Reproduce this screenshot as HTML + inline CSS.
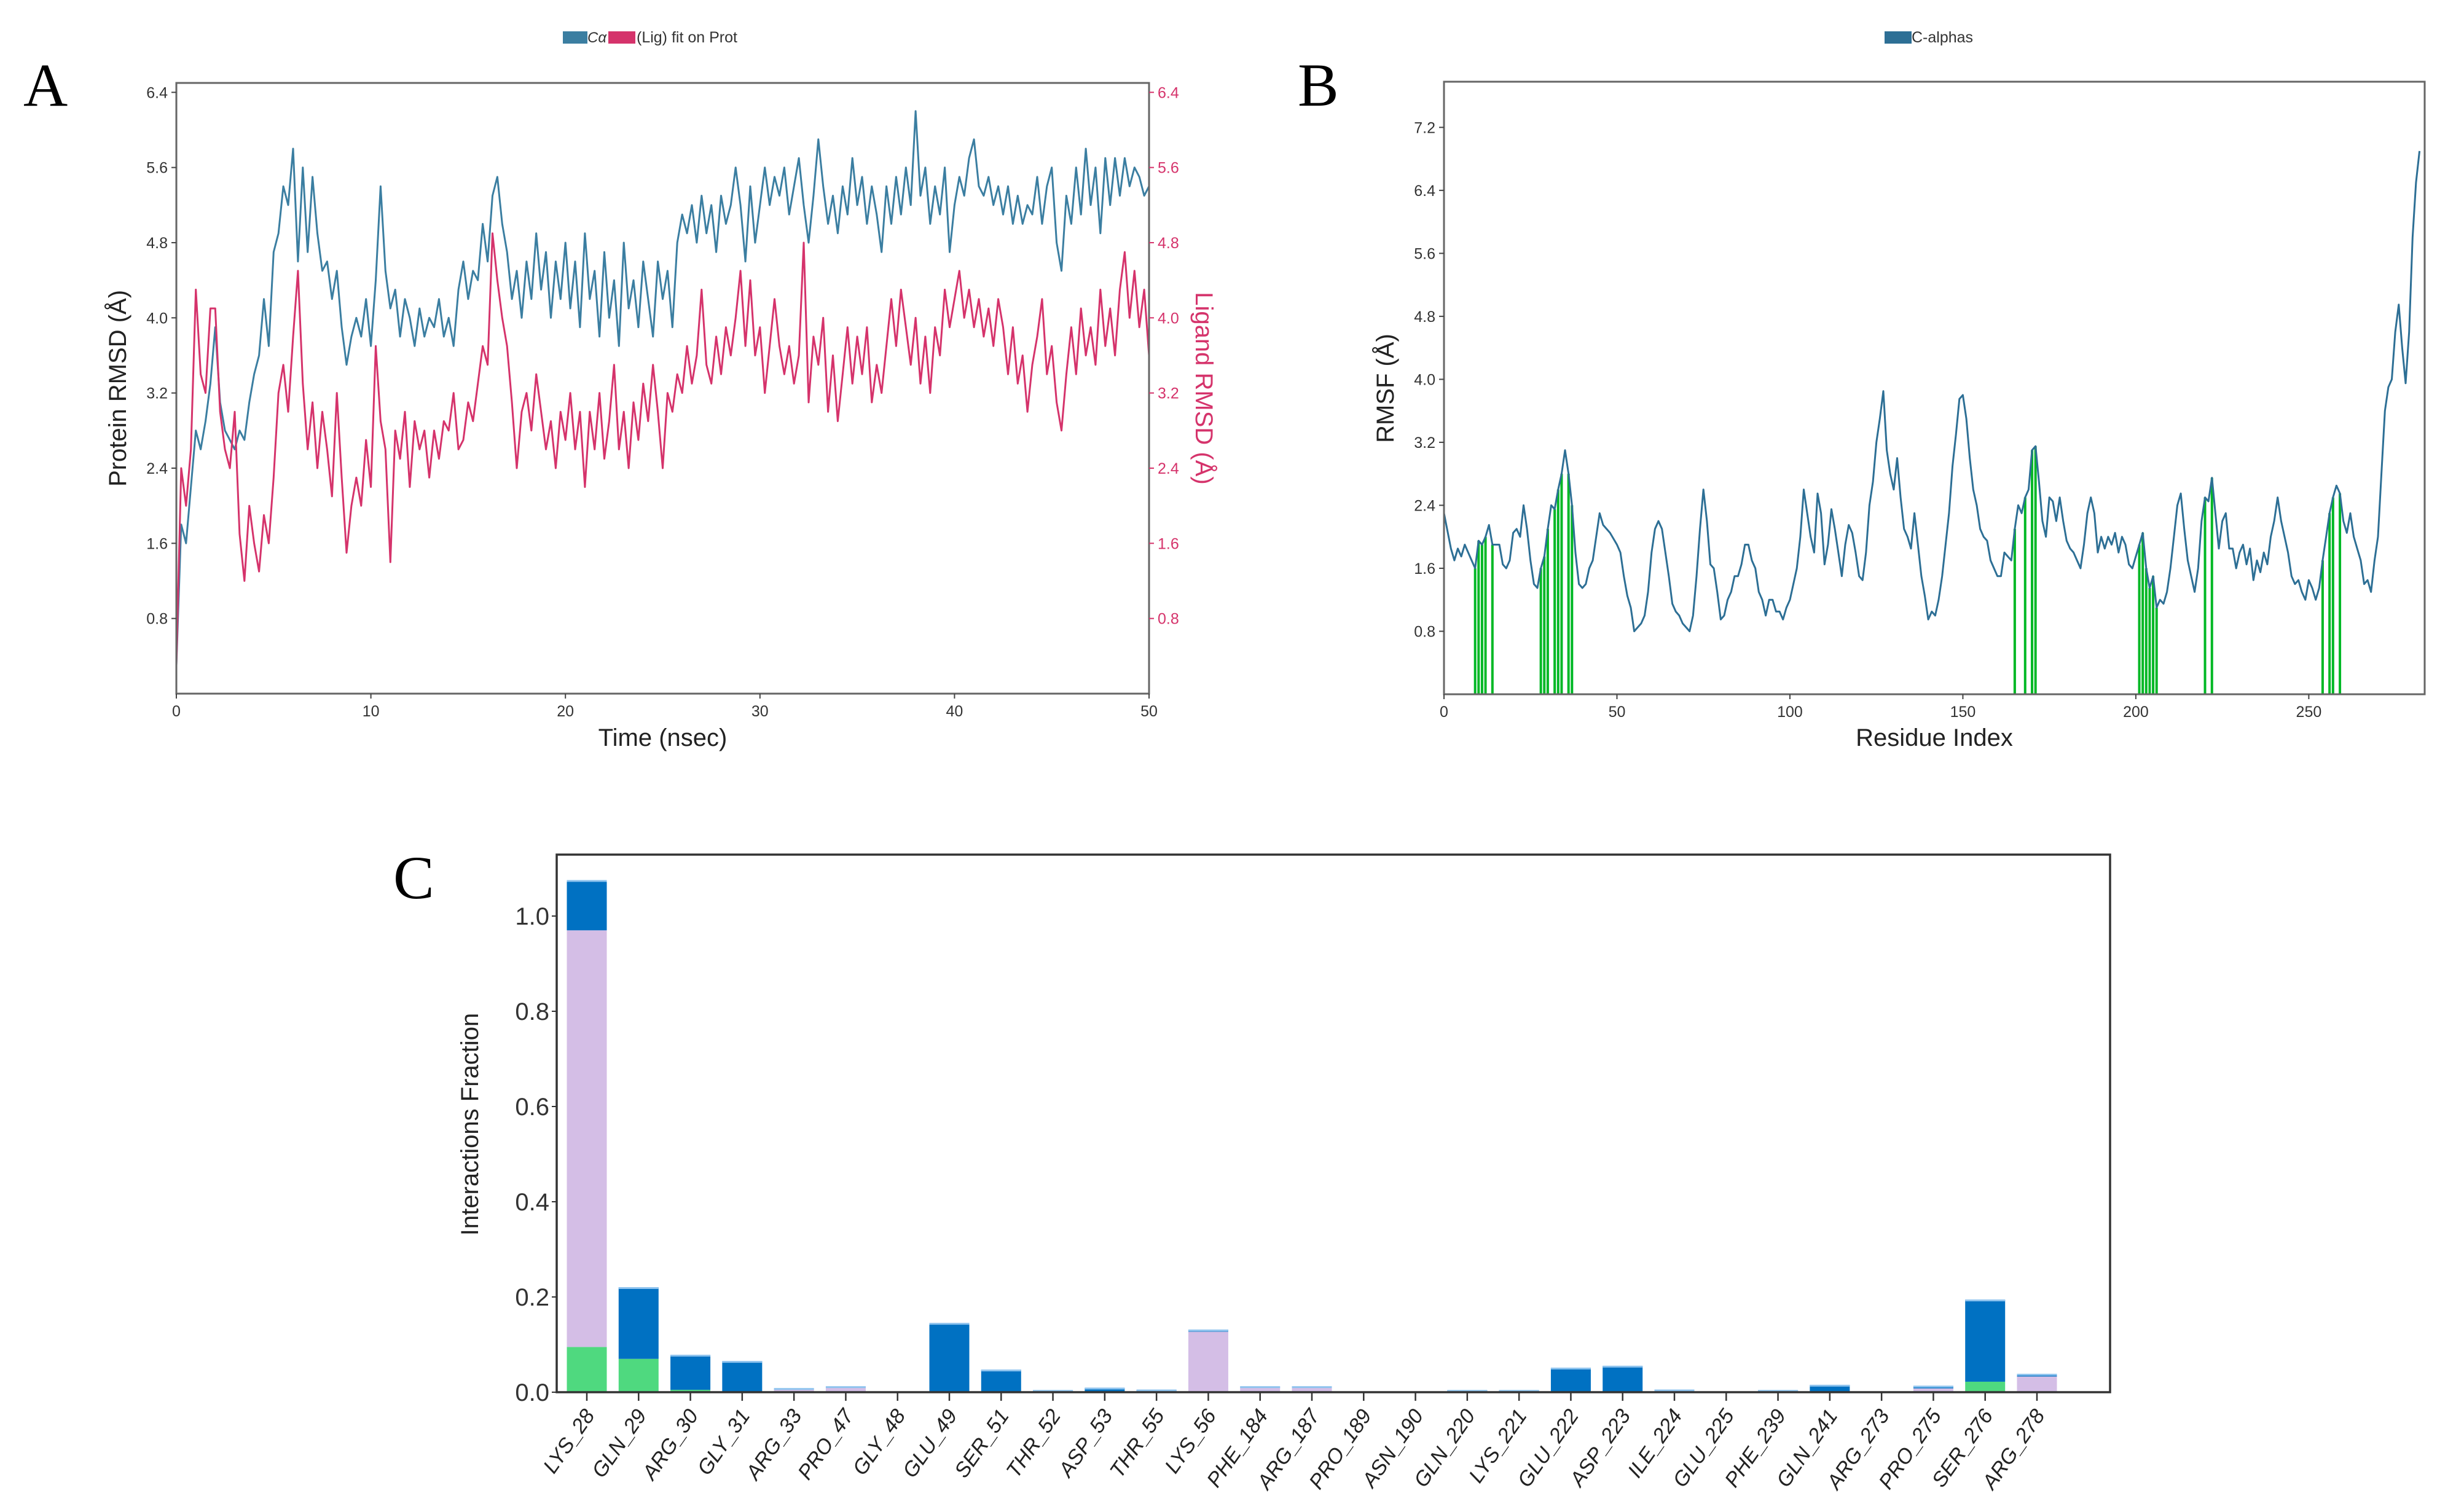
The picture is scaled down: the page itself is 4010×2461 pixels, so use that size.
<!DOCTYPE html>
<html><head><meta charset="utf-8">
<style>
html,body{margin:0;padding:0;background:#fff;}
svg{display:block;font-family:"Liberation Sans",sans-serif;}
</style></head>
<body>
<svg id="fig" width="4010" height="2461" viewBox="0 0 4010 2461" xmlns="http://www.w3.org/2000/svg">
<rect width="4010" height="2461" fill="#fff"/>
<g id="pA"></g>
<g id="pB"></g>
<g id="pC"></g>
</svg>
<script>
// ---------- Panel A data (0.25 ns step) ----------
const proteinRmsd = [0.3,1.8,1.6,2.2,2.8,2.6,2.9,3.3,3.9,3.1,2.8,2.7,2.6,2.8,2.7,3.1,3.4,3.6,4.2,3.7,4.7,4.9,5.4,5.2,5.8,4.6,5.6,4.7,5.5,4.9,4.5,4.6,4.2,4.5,3.9,3.5,3.8,4.0,3.8,4.2,3.7,4.4,5.4,4.5,4.1,4.3,3.8,4.2,4.0,3.7,4.1,3.8,4.0,3.9,4.2,3.8,4.0,3.7,4.3,4.6,4.2,4.5,4.4,5.0,4.6,5.3,5.5,5.0,4.7,4.2,4.5,4.0,4.6,4.2,4.9,4.3,4.7,4.0,4.6,4.2,4.8,4.1,4.6,3.9,4.9,4.2,4.5,3.8,4.7,4.0,4.4,3.7,4.8,4.1,4.4,3.9,4.6,4.2,3.8,4.6,4.2,4.5,3.9,4.8,5.1,4.9,5.2,4.8,5.3,4.9,5.2,4.7,5.3,5.0,5.2,5.6,5.2,4.6,5.4,4.8,5.2,5.6,5.2,5.5,5.3,5.6,5.1,5.4,5.7,5.2,4.8,5.3,5.9,5.4,5.0,5.3,4.9,5.4,5.1,5.7,5.2,5.5,5.0,5.4,5.1,4.7,5.4,5.0,5.5,5.1,5.6,5.2,6.2,5.3,5.6,5.0,5.4,5.1,5.6,4.7,5.2,5.5,5.3,5.7,5.9,5.4,5.3,5.5,5.2,5.4,5.1,5.4,5.0,5.3,5.0,5.2,5.1,5.5,5.0,5.4,5.6,4.8,4.5,5.3,5.0,5.6,5.1,5.8,5.2,5.6,4.9,5.7,5.2,5.7,5.3,5.7,5.4,5.6,5.5,5.3,5.4];
const ligandRmsd = [0.3,2.4,2.0,2.6,4.3,3.4,3.2,4.1,4.1,3.0,2.6,2.4,3.0,1.7,1.2,2.0,1.6,1.3,1.9,1.6,2.3,3.2,3.5,3.0,3.8,4.5,3.3,2.6,3.1,2.4,3.0,2.6,2.1,3.2,2.3,1.5,2.0,2.3,2.0,2.7,2.2,3.7,2.9,2.6,1.4,2.8,2.5,3.0,2.2,2.9,2.6,2.8,2.3,2.8,2.5,2.9,2.8,3.2,2.6,2.7,3.1,2.9,3.3,3.7,3.5,4.9,4.4,4.0,3.7,3.1,2.4,3.0,3.2,2.8,3.4,3.0,2.6,2.9,2.4,3.0,2.7,3.2,2.6,3.0,2.2,3.0,2.6,3.2,2.5,2.9,3.5,2.6,3.0,2.4,3.1,2.7,3.3,2.9,3.5,3.0,2.4,3.2,3.0,3.4,3.2,3.7,3.3,3.6,4.3,3.5,3.3,3.8,3.4,3.9,3.6,4.0,4.5,3.7,4.4,3.6,3.9,3.2,3.7,4.2,3.7,3.4,3.7,3.3,3.6,4.8,3.1,3.8,3.5,4.0,3.0,3.6,2.9,3.4,3.9,3.3,3.8,3.4,3.9,3.1,3.5,3.2,3.7,4.2,3.7,4.3,3.9,3.5,4.0,3.3,3.8,3.2,3.9,3.6,4.3,3.9,4.2,4.5,4.0,4.3,3.9,4.2,3.8,4.1,3.7,4.2,3.9,3.4,3.9,3.3,3.6,3.0,3.5,3.8,4.2,3.4,3.7,3.1,2.8,3.4,3.9,3.4,4.1,3.6,3.9,3.5,4.3,3.7,4.1,3.6,4.3,4.7,4.0,4.5,3.9,4.3,3.6];
const rmsdTicks = [0.8,1.6,2.4,3.2,4.0,4.8,5.6,6.4];
const timeTicks = [0,10,20,30,40,50];

// ---------- Panel B data ----------
const residues = [0,2,3,4,5,6,8,9,10,11,12,13,14,16,17,18,19,20,21,22,23,24,25,26,27,28,29,30,31,32,33,34,35,36,37,38,39,40,41,42,43,44,45,46,48,50,51,52,53,54,55,57,58,59,60,61,62,63,64,65,66,67,68,69,71,72,73,74,75,76,77,78,79,80,81,82,83,84,85,86,87,88,89,90,91,92,93,94,95,96,97,98,99,100,102,103,104,105,106,107,108,109,110,111,112,113,114,115,116,117,118,119,120,121,122,123,124,125,126,127,128,129,130,131,132,133,134,135,136,137,138,139,140,141,142,143,144,145,146,147,148,149,150,151,152,153,154,155,156,157,158,159,160,161,162,163,164,165,166,167,168,169,170,171,172,173,174,175,176,177,178,179,180,181,182,183,184,185,186,187,188,189,190,191,192,193,194,195,196,197,198,199,200,201,202,203,204,205,206,207,208,209,210,211,212,213,214,215,216,217,218,219,220,221,222,223,224,225,226,227,228,229,230,231,232,233,234,235,236,237,238,239,240,241,242,243,244,245,246,247,248,249,250,251,252,253,254,255,256,257,258,259,260,261,262,263,264,265,266,267,268,269,270,271,272,273,274,275,276,277,278,279,280,281,282];
const rmsf = [2.3,1.85,1.7,1.85,1.75,1.9,1.7,1.6,1.95,1.9,2.0,2.15,1.9,1.9,1.65,1.6,1.7,2.05,2.1,2.0,2.4,2.1,1.7,1.4,1.35,1.6,1.75,2.1,2.4,2.35,2.6,2.8,3.1,2.8,2.4,1.8,1.4,1.35,1.4,1.6,1.7,2.0,2.3,2.15,2.05,1.9,1.8,1.5,1.25,1.1,0.8,0.9,1.0,1.3,1.8,2.1,2.2,2.1,1.8,1.5,1.15,1.05,1.0,0.9,0.8,1.0,1.5,2.1,2.6,2.2,1.65,1.6,1.3,0.95,1.0,1.2,1.3,1.5,1.5,1.65,1.9,1.9,1.7,1.6,1.3,1.2,1.0,1.2,1.2,1.05,1.05,0.95,1.1,1.2,1.6,2.0,2.6,2.3,2.0,1.8,2.55,2.3,1.65,1.9,2.35,2.1,1.8,1.5,1.9,2.15,2.05,1.8,1.5,1.45,1.8,2.4,2.7,3.2,3.5,3.85,3.1,2.8,2.6,3.0,2.5,2.1,2.0,1.85,2.3,1.9,1.5,1.25,0.95,1.05,1.0,1.2,1.5,1.9,2.3,2.9,3.3,3.75,3.8,3.5,3.0,2.6,2.4,2.1,2.0,1.95,1.7,1.6,1.5,1.5,1.8,1.75,1.7,2.1,2.4,2.3,2.5,2.6,3.1,3.15,2.7,2.2,2.0,2.5,2.45,2.2,2.5,2.2,1.95,1.85,1.8,1.7,1.6,1.9,2.3,2.5,2.3,1.8,2.0,1.85,2.0,1.9,2.05,1.8,2.0,1.9,1.65,1.6,1.75,1.9,2.05,1.6,1.35,1.5,1.1,1.2,1.15,1.3,1.6,2.0,2.4,2.55,2.1,1.7,1.5,1.3,1.6,2.2,2.5,2.45,2.75,2.3,1.85,2.2,2.3,1.85,1.85,1.6,1.8,1.9,1.65,1.85,1.45,1.7,1.55,1.8,1.65,2.0,2.2,2.5,2.2,2.0,1.8,1.5,1.4,1.45,1.3,1.2,1.45,1.35,1.2,1.35,1.7,2.0,2.3,2.5,2.65,2.55,2.2,2.05,2.3,2.0,1.85,1.7,1.4,1.45,1.3,1.7,2.0,2.8,3.6,3.9,4.0,4.6,4.95,4.4,3.95,4.6,5.8,6.5,6.9];
const contactResidues = [9,10,11,12,14,28,29,30,32,33,34,36,37,165,168,170,171,201,202,203,204,205,206,220,222,254,256,257,259];
const rmsfTicks = [0.8,1.6,2.4,3.2,4.0,4.8,5.6,6.4,7.2];
const residueTicks = [0,50,100,150,200,250];

// ---------- Panel C data ----------
const resNames = ["LYS_28","GLN_29","ARG_30","GLY_31","ARG_33","PRO_47","GLY_48","GLU_49","SER_51","THR_52","ASP_53","THR_55","LYS_56","PHE_184","ARG_187","PRO_189","ASN_190","GLN_220","LYS_221","GLU_222","ASP_223","ILE_224","GLU_225","PHE_239","GLN_241","ARG_273","PRO_275","SER_276","ARG_278"];
const hbond   = [0.095,0.07,0.005,0,0,0,0,0,0,0,0,0,0,0,0,0,0,0,0,0,0,0,0,0,0,0,0,0.022,0];
const hydroph = [0.875,0,0,0,0.008,0.012,0,0,0,0,0,0,0.127,0.012,0.012,0,0,0,0,0,0,0,0,0,0,0,0.008,0,0.033];
const waterBr = [0.105,0.15,0.073,0.065,0,0,0,0.145,0.047,0.004,0.009,0.005,0.004,0,0,0,0,0.004,0.004,0.051,0.055,0.005,0,0.004,0.015,0,0.005,0.172,0.005];
const fracTicks = [0.0,0.2,0.4,0.6,0.8,1.0];

const NS="http://www.w3.org/2000/svg";
function mk(parent,tag,attrs,txt){const e=document.createElementNS(NS,tag);for(const k in attrs)e.setAttribute(k,attrs[k]);if(txt!==undefined)e.textContent=txt;parent.appendChild(e);return e;}

// ===== Panel A =====
(function(){
const g=document.getElementById('pA');
const L=287,R=1870,T=135,B=1129;
const xA=t=>L+(t/50)*(R-L);
const yA=v=>B-(v/6.5)*(B-T);
let e=mk(g,'text',{x:38,y:172,'font-family':'Liberation Serif, serif','font-size':100},'A');


const lg=mk(g,'g',{});


mk(lg,'rect',{x:916,y:51,width:40,height:20,fill:'#3b7ea1'});
mk(lg,'text',{x:956,y:69,'font-size':24,fill:'#333','font-style':'italic'},'Cα');
mk(lg,'rect',{x:990,y:51,width:44,height:20,fill:'#d5336b'});
mk(lg,'text',{x:1036,y:69,'font-size':25,fill:'#333'},'(Lig) fit on Prot');
function series(arr,color,name){
  let d='';arr.forEach((v,i)=>{d+=(i?'L':'M')+xA(i*0.25).toFixed(1)+','+yA(v).toFixed(1);});
  const p=mk(g,'path',{d:d,fill:'none',stroke:color,'stroke-width':3,'stroke-linejoin':'round'});
  
  
}
series(proteinRmsd,'#3b7ea1','protein-rmsd-line');
series(ligandRmsd,'#d5336b','ligand-rmsd-line');
e=mk(g,'rect',{x:L,y:T,width:R-L,height:B-T,fill:'none',stroke:'#666','stroke-width':3});


rmsdTicks.forEach(v=>{
  const y=yA(v);
  mk(g,'line',{x1:L-8,x2:L,y1:y,y2:y,stroke:'#444','stroke-width':2});
  let t=mk(g,'text',{x:L-14,y:y+9,'text-anchor':'end','font-size':25,fill:'#333'},v.toFixed(1));
  
  
  mk(g,'line',{x1:R,x2:R+8,y1:y,y2:y,stroke:'#d5336b','stroke-width':2});
  t=mk(g,'text',{x:R+14,y:y+9,'font-size':25,fill:'#d5336b'},v.toFixed(1));
  
  
});
timeTicks.forEach(v=>{
  const x=xA(v);
  mk(g,'line',{x1:x,x2:x,y1:B,y2:B+8,stroke:'#444','stroke-width':2});
  const t=mk(g,'text',{x:x,y:B+37,'text-anchor':'middle','font-size':25,fill:'#333'},String(v));
  
  
});
e=mk(g,'text',{x:(L+R)/2,y:1214,'text-anchor':'middle','font-size':40,fill:'#222'},'Time (nsec)');


e=mk(g,'text',{x:0,y:0,transform:'translate(205,632) rotate(-90)','text-anchor':'middle','font-size':40,fill:'#222'},'Protein RMSD (Å)');


e=mk(g,'text',{x:0,y:0,transform:'translate(1946,632) rotate(90)','text-anchor':'middle','font-size':40,fill:'#d5336b'},'Ligand RMSD (Å)');


})();

// ===== Panel B =====
(function(){
const g=document.getElementById('pB');
const L=2350,R=3946,T=133,B=1130;
const xB=r=>L+(r/283.5)*(R-L);
const yB=v=>B-(v/7.78)*(B-T);
let e=mk(g,'text',{x:2112,y:172,'font-family':'Liberation Serif, serif','font-size':100},'B');


const lg=mk(g,'g',{});


mk(lg,'rect',{x:3067,y:51,width:44,height:20,fill:'#2d6f95'});
mk(lg,'text',{x:3111,y:69,'font-size':25,fill:'#333'},'C-alphas');
contactResidues.forEach(r=>{
  let i=residues.indexOf(r); let v=i>=0?rmsf[i]:1.8;
  const l=mk(g,'line',{x1:xB(r),x2:xB(r),y1:B,y2:yB(v),stroke:'#00b825','stroke-width':4});
  
  
});
let d='';residues.forEach((r,i)=>{d+=(i?'L':'M')+xB(r).toFixed(1)+','+yB(rmsf[i]).toFixed(1);});
e=mk(g,'path',{d:d,fill:'none',stroke:'#2d6f95','stroke-width':3,'stroke-linejoin':'round'});


e=mk(g,'rect',{x:L,y:T,width:R-L,height:B-T,fill:'none',stroke:'#666','stroke-width':3});


rmsfTicks.forEach(v=>{
  const y=yB(v);
  mk(g,'line',{x1:L-8,x2:L,y1:y,y2:y,stroke:'#444','stroke-width':2});
  const t=mk(g,'text',{x:L-14,y:y+9,'text-anchor':'end','font-size':25,fill:'#333'},v.toFixed(1));
  
  
});
residueTicks.forEach(v=>{
  const x=xB(v);
  mk(g,'line',{x1:x,x2:x,y1:B,y2:B+8,stroke:'#444','stroke-width':2});
  const t=mk(g,'text',{x:x,y:B+37,'text-anchor':'middle','font-size':25,fill:'#333'},String(v));
  
  
});
e=mk(g,'text',{x:3148,y:1214,'text-anchor':'middle','font-size':40,fill:'#222'},'Residue Index');


e=mk(g,'text',{x:0,y:0,transform:'translate(2268,632) rotate(-90)','text-anchor':'middle','font-size':40,fill:'#222'},'RMSF (Å)');


})();

// ===== Panel C =====
(function(){
const g=document.getElementById('pC');
const L=906,R=3434,T=1391,B=2266;
const c0=955,c1=3315;
const step=(c1-c0)/(resNames.length-1);
const xC=i=>c0+i*step;
const yC=v=>B-v*(B-1491);
const bw=65;
let e=mk(g,'text',{x:640,y:1462,'font-family':'Liberation Serif, serif','font-size':100},'C');


resNames.forEach((n,i)=>{
  let base=0;
  [[hbond,'#4fd97f','hbond'],[hydroph,'#d4bee6','hydrophobic'],[waterBr,'#0071c2','water-bridge']].forEach(([arr,c,nm])=>{
    const v=arr[i]; if(v<=0)return;
    const r=mk(g,'rect',{x:xC(i)-bw/2,y:yC(base+v),width:bw,height:yC(base)-yC(base+v),fill:c});
    
    
    base+=v;
  });
  if(base>0) mk(g,'line',{x1:xC(i)-bw/2,x2:xC(i)+bw/2,y1:yC(base)+1,y2:yC(base)+1,stroke:'#8ec3ee','stroke-width':3});
  mk(g,'line',{x1:xC(i),x2:xC(i),y1:B,y2:B+14,stroke:'#333','stroke-width':2.5});
  const t=mk(g,'text',{x:0,y:0,transform:'translate('+(xC(i)+14)+','+(B+38)+') rotate(-55)','text-anchor':'end','font-size':34,'font-style':'italic',fill:'#222'},n);
  
  
});
e=mk(g,'rect',{x:L,y:T,width:R-L,height:B-T,fill:'none',stroke:'#333','stroke-width':3.5});


fracTicks.forEach(v=>{
  const y=yC(v);
  mk(g,'line',{x1:L-8,x2:L,y1:y,y2:y,stroke:'#333','stroke-width':2});
  const t=mk(g,'text',{x:L-12,y:y+14,'text-anchor':'end','font-size':40,fill:'#333'},v.toFixed(1));
  
  
});
e=mk(g,'text',{x:0,y:0,transform:'translate(778,1830) rotate(-90)','text-anchor':'middle','font-size':40,fill:'#222'},'Interactions Fraction');


})();
</script>
</body></html>
